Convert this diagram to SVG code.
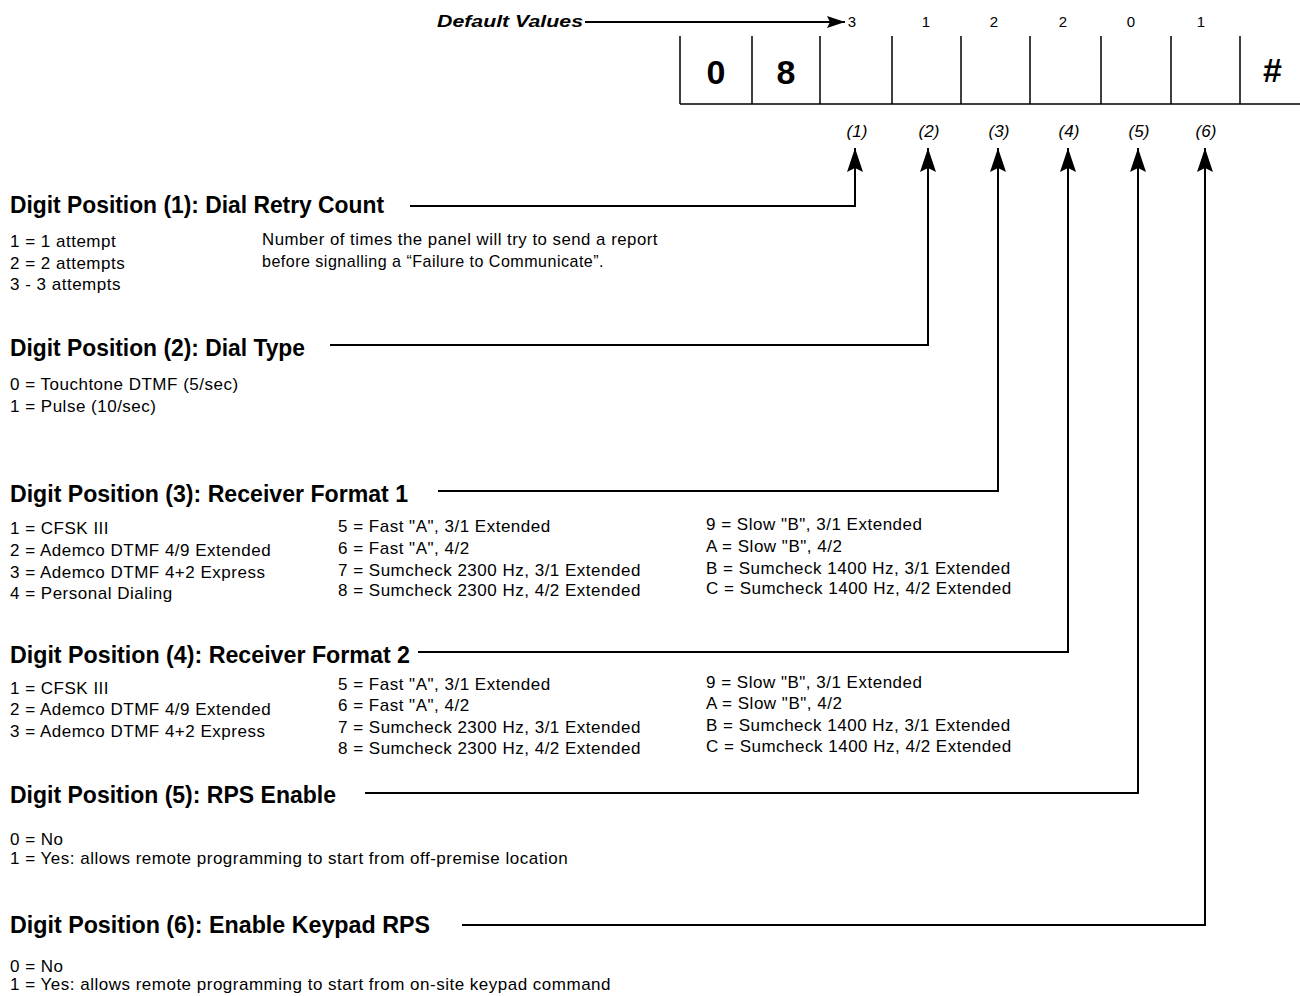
<svg xmlns="http://www.w3.org/2000/svg" width="1300" height="996" viewBox="0 0 1300 996">
<style>
.h{font-family:"Liberation Sans",Arial,sans-serif;font-weight:bold;font-size:23px;fill:#000}
.b{font-family:"Liberation Sans",Arial,sans-serif;font-size:17px;letter-spacing:0.5px;fill:#000}
.v{font-family:"Liberation Sans",Arial,sans-serif;font-size:15px;fill:#000;text-anchor:middle}
.p{font-family:"Liberation Sans",Arial,sans-serif;font-style:italic;font-size:17px;fill:#000;text-anchor:middle}
.big{font-family:"Liberation Sans",Arial,sans-serif;font-weight:bold;font-size:34px;fill:#000;text-anchor:middle}
.ln{stroke:#000;stroke-width:1.5;fill:none}
.c{stroke:#000;stroke-width:2;fill:none}
</style>
<defs>
<marker id="ah" viewBox="0 0 24 16" refX="24" refY="8" markerWidth="24" markerHeight="16" markerUnits="userSpaceOnUse" orient="auto">
<path d="M0,0 L24,8 L0,16 L4,8 z" fill="#000"/>
</marker>
<marker id="ah2" viewBox="0 0 18 12" refX="18" refY="6" markerWidth="18" markerHeight="12" markerUnits="userSpaceOnUse" orient="auto">
<path d="M0,0 L18,6 L0,12 L3,6 z" fill="#000"/>
</marker>
</defs>

<g id="header">
<text x="437" y="27" style="font-family:'Liberation Sans',Arial,sans-serif;font-weight:bold;font-style:italic;font-size:17px" textLength="146" lengthAdjust="spacingAndGlyphs">Default Values</text>
<text class="v" x="852" y="27">3</text>
<text class="v" x="926" y="27">1</text>
<text class="v" x="994" y="27">2</text>
<text class="v" x="1063" y="27">2</text>
<text class="v" x="1131" y="27">0</text>
<text class="v" x="1201" y="27">1</text>
</g>

<g id="digit-box">
<path class="ln" d="M680,36 V104 M752,36 V104 M820,36 V104 M892,36 V104 M961,36 V104 M1030,36 V104 M1101,36 V104 M1171,36 V104 M1240,36 V104 M680,104 H1300"/>
<text class="big" x="716" y="84">0</text>
<text class="big" x="786" y="84">8</text>
<text x="1272" y="82" style="font-family:'Liberation Sans',Arial,sans-serif;font-weight:bold;font-style:italic;font-size:34px;text-anchor:middle">#</text>
<text class="p" x="857" y="137">(1)</text>
<text class="p" x="929" y="137">(2)</text>
<text class="p" x="999" y="137">(3)</text>
<text class="p" x="1069" y="137">(4)</text>
<text class="p" x="1139" y="137">(5)</text>
<text class="p" x="1206" y="137">(6)</text>
</g>

<g id="connectors">
<path class="c" d="M585,22 H845" marker-end="url(#ah2)"/>
<path class="c" d="M410,206 H855 V148" marker-end="url(#ah)"/>
<path class="c" d="M330,345 H928 V148" marker-end="url(#ah)"/>
<path class="c" d="M438,491 H998 V148" marker-end="url(#ah)"/>
<path class="c" d="M418,652 H1068 V148" marker-end="url(#ah)"/>
<path class="c" d="M365,793 H1138 V148" marker-end="url(#ah)"/>
<path class="c" d="M462,925 H1205 V148" marker-end="url(#ah)"/>
</g>

<g id="pos1">
<text class="h" x="10" y="213" textLength="374" lengthAdjust="spacingAndGlyphs">Digit Position (1): Dial Retry Count</text>
<text class="b" x="10" y="247">1 = 1 attempt</text>
<text class="b" x="10" y="269">2 = 2 attempts</text>
<text class="b" x="10" y="290">3 - 3 attempts</text>
<text class="b" x="262" y="245" textLength="396" lengthAdjust="spacingAndGlyphs">Number of times the panel will try to send a report</text>
<text class="b" x="262" y="267" textLength="342" lengthAdjust="spacingAndGlyphs">before signalling a “Failure to Communicate”.</text>
</g>

<g id="pos2">
<text class="h" x="10" y="356" textLength="295" lengthAdjust="spacingAndGlyphs">Digit Position (2): Dial Type</text>
<text class="b" x="10" y="390">0 = Touchtone DTMF (5/sec)</text>
<text class="b" x="10" y="412">1 = Pulse (10/sec)</text>
</g>

<g id="pos3">
<text class="h" x="10" y="502" textLength="398" lengthAdjust="spacingAndGlyphs">Digit Position (3): Receiver Format 1</text>
<text class="b" x="10" y="534">1 = CFSK III</text>
<text class="b" x="10" y="556">2 = Ademco DTMF 4/9 Extended</text>
<text class="b" x="10" y="578">3 = Ademco DTMF 4+2 Express</text>
<text class="b" x="10" y="599">4 = Personal Dialing</text>
<text class="b" x="338" y="532">5 = Fast "A", 3/1 Extended</text>
<text class="b" x="338" y="554">6 = Fast "A", 4/2</text>
<text class="b" x="338" y="576">7 = Sumcheck 2300 Hz, 3/1 Extended</text>
<text class="b" x="338" y="596">8 = Sumcheck 2300 Hz, 4/2 Extended</text>
<text class="b" x="706" y="530">9 = Slow "B", 3/1 Extended</text>
<text class="b" x="706" y="552">A = Slow "B", 4/2</text>
<text class="b" x="706" y="574">B = Sumcheck 1400 Hz, 3/1 Extended</text>
<text class="b" x="706" y="594">C = Sumcheck 1400 Hz, 4/2 Extended</text>
</g>

<g id="pos4">
<text class="h" x="10" y="663" textLength="400" lengthAdjust="spacingAndGlyphs">Digit Position (4): Receiver Format 2</text>
<text class="b" x="10" y="694">1 = CFSK III</text>
<text class="b" x="10" y="715">2 = Ademco DTMF 4/9 Extended</text>
<text class="b" x="10" y="737">3 = Ademco DTMF 4+2 Express</text>
<text class="b" x="338" y="690">5 = Fast "A", 3/1 Extended</text>
<text class="b" x="338" y="711">6 = Fast "A", 4/2</text>
<text class="b" x="338" y="733">7 = Sumcheck 2300 Hz, 3/1 Extended</text>
<text class="b" x="338" y="754">8 = Sumcheck 2300 Hz, 4/2 Extended</text>
<text class="b" x="706" y="688">9 = Slow "B", 3/1 Extended</text>
<text class="b" x="706" y="709">A = Slow "B", 4/2</text>
<text class="b" x="706" y="731">B = Sumcheck 1400 Hz, 3/1 Extended</text>
<text class="b" x="706" y="752">C = Sumcheck 1400 Hz, 4/2 Extended</text>
</g>

<g id="pos5">
<text class="h" x="10" y="803" textLength="326" lengthAdjust="spacingAndGlyphs">Digit Position (5): RPS Enable</text>
<text class="b" x="10" y="845">0 = No</text>
<text class="b" x="10" y="864">1 = Yes: allows remote programming to start from off-premise location</text>
</g>

<g id="pos6">
<text class="h" x="10" y="933" textLength="420" lengthAdjust="spacingAndGlyphs">Digit Position (6): Enable Keypad RPS</text>
<text class="b" x="10" y="972">0 = No</text>
<text class="b" x="10" y="990">1 = Yes: allows remote programming to start from on-site keypad command</text>
</g>
</svg>
